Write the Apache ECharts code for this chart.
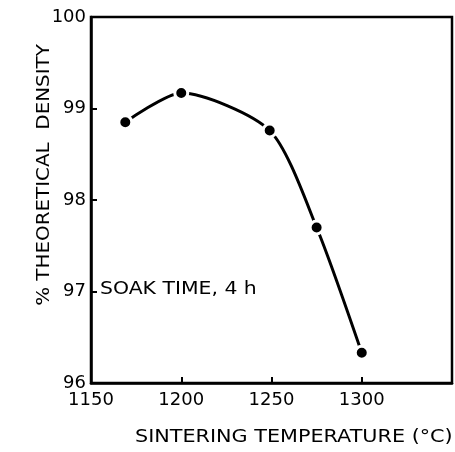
<!DOCTYPE html>
<html>
<head>
<meta charset="utf-8">
<script src="https://cdn.jsdelivr.net/npm/echarts@6/dist/echarts.min.js"></script>
<style>
html,body{margin:0;padding:0;background:#fff;}
#c{width:455px;height:452px;}
</style>
</head>
<body>
<div id="c"></div>
<script>
var temperatures = [1169, 1200, 1249, 1275, 1300];
var densities = [98.85, 99.17, 98.76, 97.70, 96.33];
var xTicks = [1150, 1200, 1250, 1300];
var yTicks = [96, 97, 98, 99, 100];
var xTitle = 'SINTERING TEMPERATURE (\u00B0C)';
var yTitle = '% THEORETICAL  DENSITY';
var note = 'SOAK TIME, 4 h';

var FONT = 'DejaVu Sans';
var chart = echarts.init(document.getElementById('c'), null, {renderer: 'canvas'});
var points = temperatures.map(function (t, i) { return [t, densities[i]]; });

chart.setOption({
  animation: false,
  backgroundColor: '#fff',
  grid: {left: 91, top: 17, right: 3, bottom: 69, show: true, borderColor: '#000', borderWidth: 2.5, backgroundColor: 'transparent'},
  xAxis: {
    type: 'value', min: 1150, max: 1350, interval: 50,
    axisLine: {show: true, lineStyle: {color: '#000', width: 2.5}},
    axisTick: {show: true, inside: true, length: 6, lineStyle: {color: '#000', width: 2}},
    splitLine: {show: false},
    axisLabel: {
      color: '#000', fontFamily: FONT, fontSize: 18, margin: 8,
      formatter: function (v) { return xTicks.indexOf(v) >= 0 ? String(v) : ''; }
    }
  },
  yAxis: {
    type: 'value', min: 96, max: 100, interval: 1,
    axisLine: {show: true, lineStyle: {color: '#000', width: 2.5}},
    axisTick: {show: true, inside: true, length: 6, lineStyle: {color: '#000', width: 2}},
    splitLine: {show: false},
    axisLabel: {
      color: '#000', fontFamily: FONT, fontSize: 18, margin: 5,
      formatter: function (v) { return yTicks.indexOf(v) >= 0 ? String(v) : ''; }
    }
  },
  graphic: [
    {type: 'text', x: 135, y: 438, scaleX: 1.22, style: {text: xTitle, fill: '#000', font: '17px "' + FONT + '"', align: 'left', verticalAlign: 'middle'}},
    {type: 'text', x: 45, y: 175, rotation: Math.PI / 2, scaleX: 1.17, style: {text: yTitle, fill: '#000', font: '17px "' + FONT + '"', align: 'center', verticalAlign: 'middle'}},
    {type: 'text', x: 100, y: 290, scaleX: 1.2, style: {text: note, fill: '#000', font: '17px "' + FONT + '"', align: 'left', verticalAlign: 'middle'}}
  ],
  series: [{
    type: 'line',
    data: points,
    smooth: 0.25,
    symbol: 'circle',
    symbolSize: 13,
    lineStyle: {color: '#000', width: 3},
    itemStyle: {color: '#000', borderColor: '#fff', borderWidth: 3},
    z: 3
  }]
});
</script>
</body>
</html>
